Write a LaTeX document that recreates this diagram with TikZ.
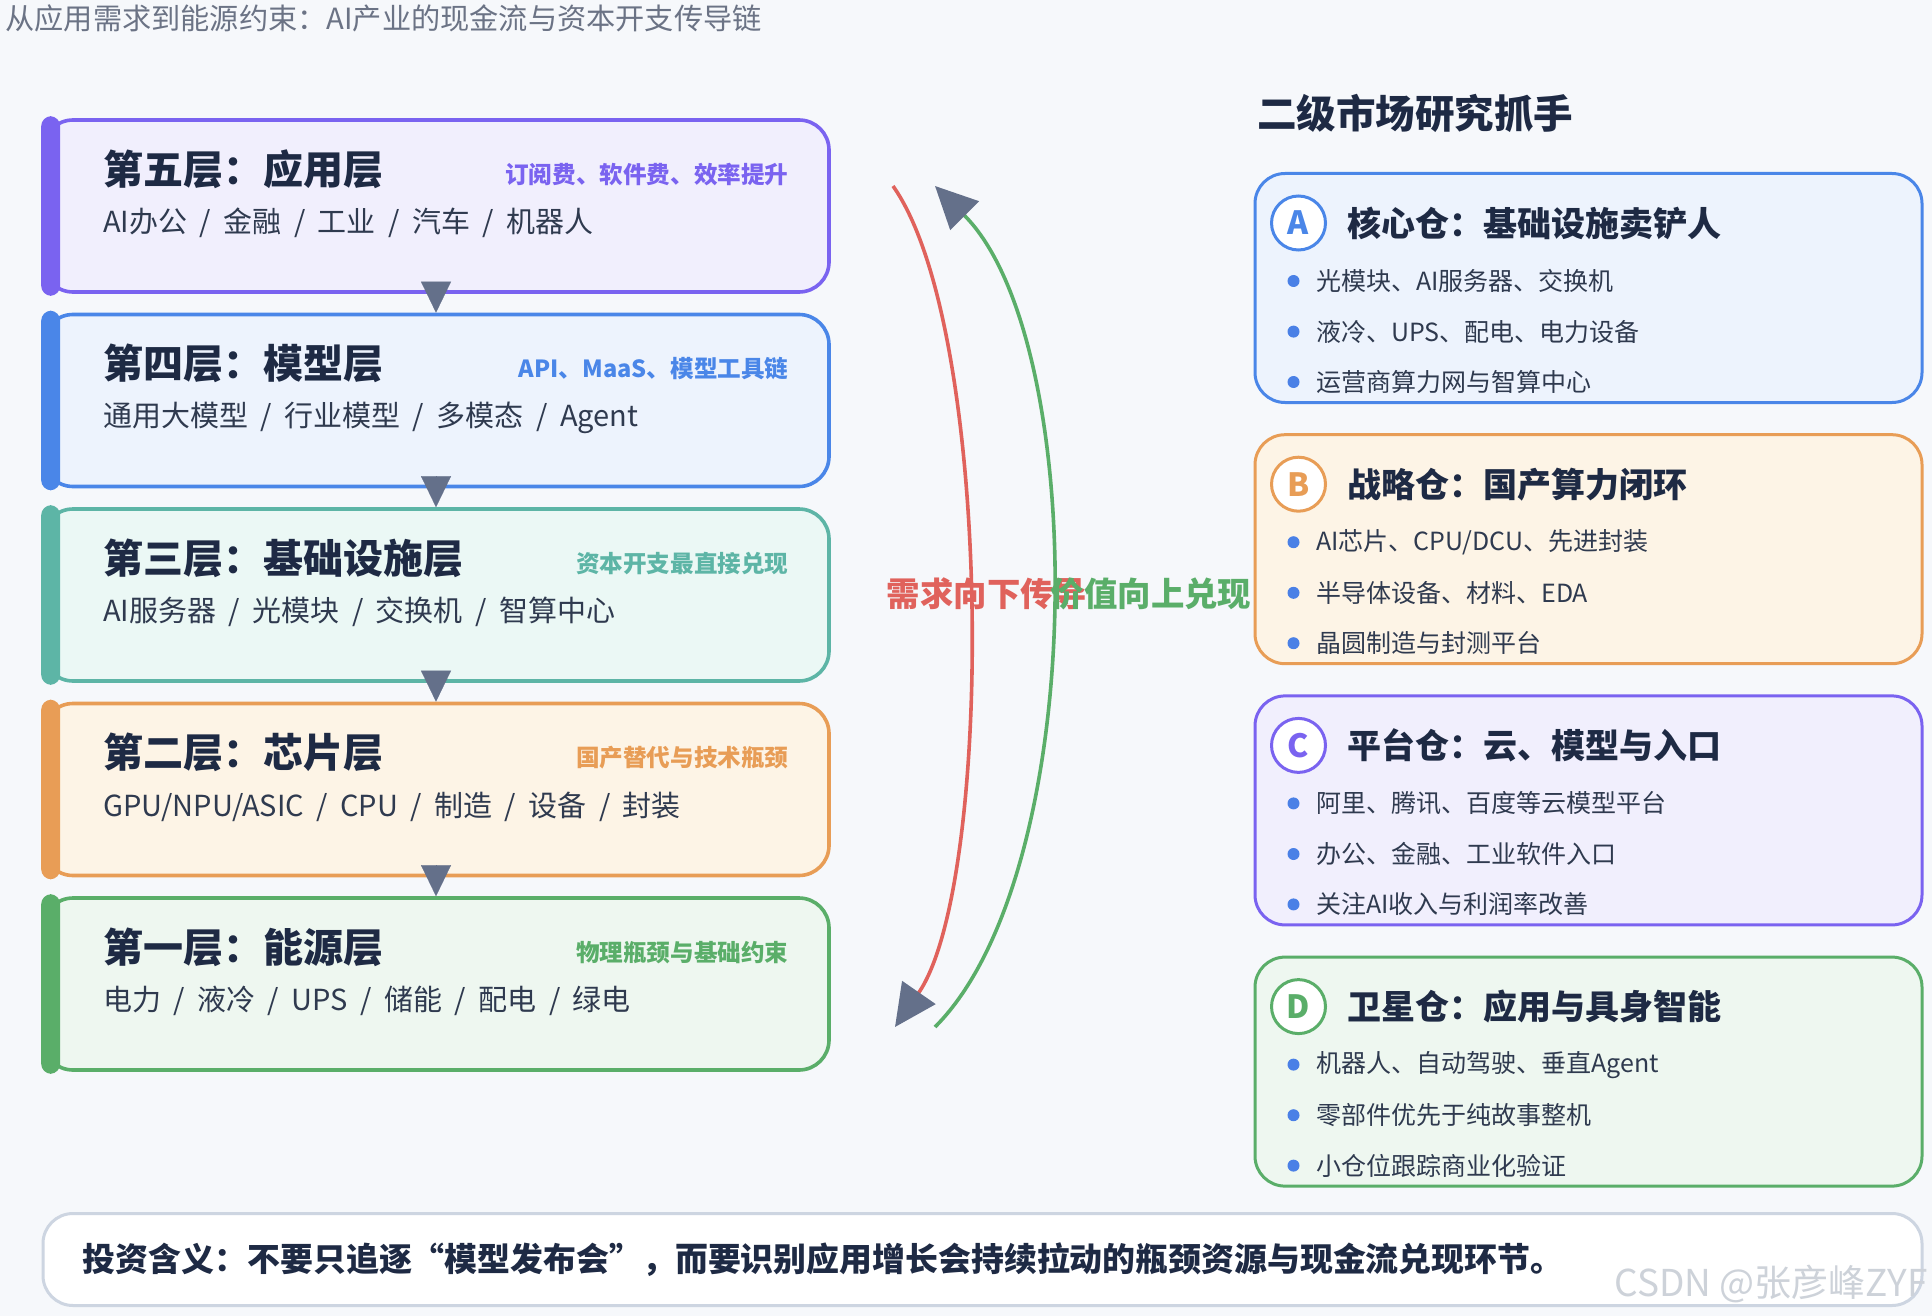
\documentclass[tikz,border=0pt]{standalone}
\usepackage{fontspec}
\setmainfont{Noto Sans CJK SC}
\usepackage{xcolor}
\usepackage{tikz}
\usetikzlibrary{arrows.meta,positioning}

\definecolor{bgcol}{HTML}{F6F8FB}
\definecolor{inkdark}{HTML}{1E2A44}
\definecolor{inkmid}{HTML}{2F3A4F}
\definecolor{inkgray}{HTML}{6B7385}
\definecolor{arrgray}{HTML}{64708A}
\definecolor{dotblue}{HTML}{4A80E6}
\definecolor{wmgray}{HTML}{CDD2D9}
\definecolor{notegray}{HTML}{CDD5E1}
\definecolor{purpleline}{HTML}{7A63F0}
\definecolor{purplefill}{HTML}{F1EFFD}
\definecolor{blueline}{HTML}{4A86E8}
\definecolor{bluefill}{HTML}{EDF3FD}
\definecolor{tealline}{HTML}{5DB5A6}
\definecolor{tealfill}{HTML}{EBF8F5}
\definecolor{orangeline}{HTML}{E89D56}
\definecolor{orangefill}{HTML}{FDF4E6}
\definecolor{greenline}{HTML}{5AAE69}
\definecolor{greenfill}{HTML}{EEF7F0}
\definecolor{downred}{HTML}{E0625C}
\definecolor{upgreen}{HTML}{5AAE69}

\tikzset{
  layerbox/.style={draw, line width=1.8pt, rounded corners=15pt, minimum width=393pt, minimum height=86pt, inner sep=0pt},
  layertitle/.style={anchor=west, inner sep=0pt, text=inkdark, font=\fontsize{20}{22}\selectfont\bfseries},
  layersub/.style={anchor=west, inner sep=0pt, text=inkmid, font=\fontsize{14.5}{17}\selectfont, execute at begin node={\spaceskip=0.43em\relax}},
  layertag/.style={anchor=east, inner sep=0pt, font=\fontsize{11.8}{14}\selectfont\bfseries},
  downtri/.style={line width=0.1pt, arrgray, -{Triangle[length=15.5pt,width=15pt]}},
  cangbox/.style={draw, line width=1.5pt, rounded corners=15pt, minimum width=333.5pt, minimum height=114.5pt, inner sep=0pt},
  badge/.style={circle, draw, line width=1.5pt, fill=white, minimum size=27pt, inner sep=0pt, font=\fontsize{16}{18}\selectfont\bfseries},
  canghead/.style={anchor=west, inner sep=0pt, text=inkdark, font=\fontsize{17}{20}\selectfont\bfseries},
  cangitem/.style={anchor=west, inner sep=0pt, text=inkmid, font=\fontsize{12.5}{15}\selectfont},
  itemdot/.style={circle, fill=dotblue, minimum size=6pt, inner sep=0pt},
  flowline/.style={line width=1.8pt, -{Triangle[length=21pt,width=20pt,color=arrgray]}},
  flowtext/.style={inner sep=0pt, font=\fontsize{16.7}{19}\selectfont\bfseries}
}

\begin{document}
\begin{tikzpicture}[x=0.5pt,y=-0.5pt]
  \useasboundingbox (0,0) rectangle (1932,1316);
  \fill[bgcol] (0,0) rectangle (1932,1316);
  \node[anchor=west, inner sep=0pt, text=inkgray, font=\fontsize{14.6}{17}\selectfont] (pagetitle) at (5,18) {从应用需求到能源约束：AI产业的现金流与资本开支传导链};

  % five layers
  \node[layerbox, draw=purpleline, fill=purplefill] (L5) at (436,206) {};
  \node[layerbox, draw=blueline, fill=bluefill] (L4) at (436,400.5) {};
  \node[layerbox, draw=tealline, fill=tealfill] (L3) at (436,595) {};
  \node[layerbox, draw=orangeline, fill=orangefill] (L2) at (436,789.5) {};
  \node[layerbox, draw=greenline, fill=greenfill] (L1) at (436,984) {};
  \fill[purpleline, rounded corners=5pt] ([yshift=1pt]L5.north west) rectangle ([xshift=9.5pt,yshift=-1pt]L5.south west);
  \fill[blueline, rounded corners=5pt] ([yshift=1pt]L4.north west) rectangle ([xshift=9.5pt,yshift=-1pt]L4.south west);
  \fill[tealline, rounded corners=5pt] ([yshift=1pt]L3.north west) rectangle ([xshift=9.5pt,yshift=-1pt]L3.south west);
  \fill[orangeline, rounded corners=5pt] ([yshift=1pt]L2.north west) rectangle ([xshift=9.5pt,yshift=-1pt]L2.south west);
  \fill[greenline, rounded corners=5pt] ([yshift=1pt]L1.north west) rectangle ([xshift=9.5pt,yshift=-1pt]L1.south west);

  \node[layertitle] (T5) at ([xshift=30.8pt,yshift=-25.5pt]L5.north west) {第五层：应用层};
  \node[layersub] (S5) at ([xshift=30.8pt,yshift=-52.5pt]L5.north west) {AI办公 / 金融 / 工业 / 汽车 / 机器人};
  \node[layertag, text=purpleline] (G5) at ([xshift=-21pt,yshift=-28pt]L5.north east) {订阅费、软件费、效率提升};
  \node[layertitle] (T4) at ([xshift=30.8pt,yshift=-25.5pt]L4.north west) {第四层：模型层};
  \node[layersub] (S4) at ([xshift=30.8pt,yshift=-52.5pt]L4.north west) {通用大模型 / 行业模型 / 多模态 / Agent};
  \node[layertag, text=blueline] (G4) at ([xshift=-21pt,yshift=-28pt]L4.north east) {API、MaaS、模型工具链};
  \node[layertitle] (T3) at ([xshift=30.8pt,yshift=-25.5pt]L3.north west) {第三层：基础设施层};
  \node[layersub] (S3) at ([xshift=30.8pt,yshift=-52.5pt]L3.north west) {AI服务器 / 光模块 / 交换机 / 智算中心};
  \node[layertag, text=tealline] (G3) at ([xshift=-21pt,yshift=-28pt]L3.north east) {资本开支最直接兑现};
  \node[layertitle] (T2) at ([xshift=30.8pt,yshift=-25.5pt]L2.north west) {第二层：芯片层};
  \node[layersub] (S2) at ([xshift=30.8pt,yshift=-52.5pt]L2.north west) {GPU/NPU/ASIC / CPU / 制造 / 设备 / 封装};
  \node[layertag, text=orangeline] (G2) at ([xshift=-21pt,yshift=-28pt]L2.north east) {国产替代与技术瓶颈};
  \node[layertitle] (T1) at ([xshift=30.8pt,yshift=-25.5pt]L1.north west) {第一层：能源层};
  \node[layersub] (S1) at ([xshift=30.8pt,yshift=-52.5pt]L1.north west) {电力 / 液冷 / UPS / 储能 / 配电 / 绿电};
  \node[layertag, text=greenline] (G1) at ([xshift=-21pt,yshift=-28pt]L1.north east) {物理瓶颈与基础约束};

  \draw[downtri] ([yshift=5pt]L5.south) -- (L4.north);
  \draw[downtri] ([yshift=5pt]L4.south) -- (L3.north);
  \draw[downtri] ([yshift=5pt]L3.south) -- (L2.north);
  \draw[downtri] ([yshift=5pt]L2.south) -- (L1.north);

  % demand goes down, value comes up
  \coordinate (redtop) at (893,186);
  \coordinate (redbot) at (895,1027);
  \coordinate (greenbot) at (935,1027);
  \coordinate (greentop) at (935,186);
  \node[flowtext, text=downred] (downlbl) at (987,594) {需求向下传导};
  \node[flowtext, text=upgreen] (uplbl) at (1151,594) {价值向上兑现};
  \draw[flowline, downred] (redtop) .. controls (994,329) and (994,884) .. (redbot);
  \draw[flowline, upgreen] (greenbot) .. controls (1090,872) and (1090,341) .. (greentop);

  % four positions
  \node[anchor=west, inner sep=0pt, text=inkdark, font=\fontsize{19.75}{23}\selectfont\bfseries] (markethead) at (1257,113) {二级市场研究抓手};
  \node[cangbox, draw=blueline, fill=bluefill] (A) at (1588.5,288) {};
  \node[cangbox, draw=orangeline, fill=orangefill] (B) at (1588.5,549.2) {};
  \node[cangbox, draw=purpleline, fill=purplefill] (C) at (1588.5,810.4) {};
  \node[cangbox, draw=greenline, fill=greenfill] (D) at (1588.5,1071.6) {};

  \node[badge, draw=blueline, text=blueline] (bA) at ([xshift=22.5pt,yshift=-25.5pt]A.north west) {A};
  \node[canghead, right=10pt of bA] (hA) {核心仓：基础设施卖铲人};
  \node[itemdot] (dA1) at ([xshift=20pt,yshift=-54.5pt]A.north west) {};
  \node[itemdot] (dA2) at ([xshift=20pt,yshift=-79.8pt]A.north west) {};
  \node[itemdot] (dA3) at ([xshift=20pt,yshift=-105pt]A.north west) {};
  \node[cangitem, right=8pt of dA1] (iA1) {光模块、AI服务器、交换机};
  \node[cangitem, right=8pt of dA2] (iA2) {液冷、UPS、配电、电力设备};
  \node[cangitem, right=8pt of dA3] (iA3) {运营商算力网与智算中心};

  \node[badge, draw=orangeline, text=orangeline] (bB) at ([xshift=22.5pt,yshift=-25.5pt]B.north west) {B};
  \node[canghead, right=10pt of bB] (hB) {战略仓：国产算力闭环};
  \node[itemdot] (dB1) at ([xshift=20pt,yshift=-54.5pt]B.north west) {};
  \node[itemdot] (dB2) at ([xshift=20pt,yshift=-79.8pt]B.north west) {};
  \node[itemdot] (dB3) at ([xshift=20pt,yshift=-105pt]B.north west) {};
  \node[cangitem, right=8pt of dB1] (iB1) {AI芯片、CPU/DCU、先进封装};
  \node[cangitem, right=8pt of dB2] (iB2) {半导体设备、材料、EDA};
  \node[cangitem, right=8pt of dB3] (iB3) {晶圆制造与封测平台};

  \node[badge, draw=purpleline, text=purpleline] (bC) at ([xshift=22.5pt,yshift=-25.5pt]C.north west) {C};
  \node[canghead, right=10pt of bC] (hC) {平台仓：云、模型与入口};
  \node[itemdot] (dC1) at ([xshift=20pt,yshift=-54.5pt]C.north west) {};
  \node[itemdot] (dC2) at ([xshift=20pt,yshift=-79.8pt]C.north west) {};
  \node[itemdot] (dC3) at ([xshift=20pt,yshift=-105pt]C.north west) {};
  \node[cangitem, right=8pt of dC1] (iC1) {阿里、腾讯、百度等云模型平台};
  \node[cangitem, right=8pt of dC2] (iC2) {办公、金融、工业软件入口};
  \node[cangitem, right=8pt of dC3] (iC3) {关注AI收入与利润率改善};

  \node[badge, draw=greenline, text=greenline] (bD) at ([xshift=22.5pt,yshift=-25.5pt]D.north west) {D};
  \node[canghead, right=10pt of bD] (hD) {卫星仓：应用与具身智能};
  \node[itemdot] (dD1) at ([xshift=20pt,yshift=-54.5pt]D.north west) {};
  \node[itemdot] (dD2) at ([xshift=20pt,yshift=-79.8pt]D.north west) {};
  \node[itemdot] (dD3) at ([xshift=20pt,yshift=-105pt]D.north west) {};
  \node[cangitem, right=8pt of dD1] (iD1) {机器人、自动驾驶、垂直Agent};
  \node[cangitem, right=8pt of dD2] (iD2) {零部件优先于纯故事整机};
  \node[cangitem, right=8pt of dD3] (iD3) {小仓位跟踪商业化验证};

  % takeaway
  \node[draw=notegray, line width=1.5pt, fill=white, rounded corners=15pt, minimum width=939.5pt, minimum height=46pt, inner sep=0pt] (note) at (982.5,1259.5) {};
  \node[anchor=west, inner sep=0pt, text=inkdark, font=\fontsize{16.45}{19}\selectfont\bfseries] (notetext) at ([xshift=20.5pt]note.west) {投资含义：不要只追逐“模型发布会”，而要识别应用增长会持续拉动的瓶颈资源与现金流兑现环节。};
  \node[anchor=west, inner sep=0pt, text=wmgray, font=\fontsize{18.5}{21}\selectfont] (mark) at (1614,1284) {CSDN @张彦峰ZYF};
\end{tikzpicture}
\end{document}
